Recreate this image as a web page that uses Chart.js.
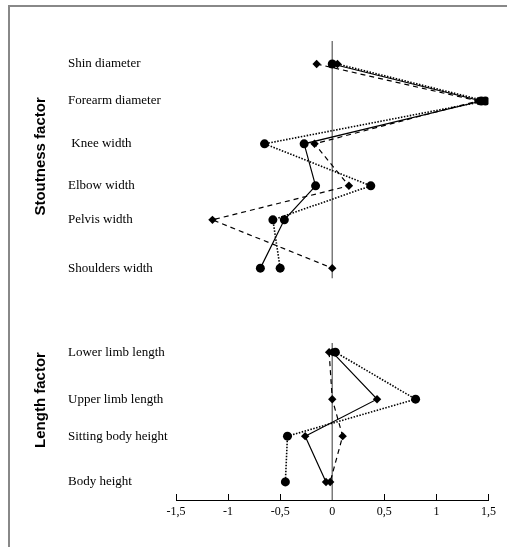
<!DOCTYPE html>
<html>
<head>
<meta charset="utf-8">
<script src="https://cdn.jsdelivr.net/npm/chart.js@4"></script>
<style>
  html, body { margin: 0; padding: 0; background: #fff; overflow: hidden; }
  #wrap { position: relative; width: 507px; height: 547px; }
  #frame { position: absolute; left: 8px; top: 5px; width: 620px; height: 620px; border: 2px solid #888; box-sizing: border-box; }
  #chart { position: absolute; left: 0; top: 0; }
</style>
</head>
<body>
<div id="wrap">
  <div id="frame"></div>
  <canvas id="chart" width="507" height="547"></canvas>
</div>
<script>
// stoutness factor rows (top to bottom)
const stoutLabels = ['Shin diameter', 'Forearm diameter', ' Knee width', 'Elbow width', 'Pelvis width', 'Shoulders width'];
const stoutRowY = [0, 0.88, 1.90, 2.90, 3.71, 4.86];
const stoutSolid = [0.00, 1.43, -0.27, -0.16, -0.46, -0.69];
const stoutDotted = [0.05, 1.47, -0.65, 0.37, -0.57, -0.50];
const stoutDashed = [-0.15, 1.40, -0.17, 0.16, -1.15, 0.00];

// length factor rows
const lengthLabels = ['Lower limb length', 'Upper limb length', 'Sitting body height', 'Body height'];
const lengthRowY = [6.86, 7.98, 8.86, 9.95];
const lengthSolid = [0.00, 0.43, -0.26, -0.06];
const lengthDotted = [0.03, 0.80, -0.43, -0.45];
const lengthDashed = [-0.03, 0.00, 0.10, -0.02];

const factorNames = ['Stoutness factor', 'Length factor'];
const factorY = [2.2, 8.0];
const zeroSpans = [[-0.55, 5.1], [6.64, 10.38]];

const xTicks = [-1.5, -1, -0.5, 0, 0.5, 1, 1.5];

const allLabels = stoutLabels.concat(lengthLabels);
const allRowY = stoutRowY.concat(lengthRowY);

function pts(xs, ys) {
    return xs.map((x, i) => ({x: x, y: ys[i]}));
}

function series(xs, ys, dash, width, style) {
    return {
        data: pts(xs, ys),
        borderColor: '#000',
        backgroundColor: '#000',
        borderWidth: width,
        borderDash: dash,
        pointStyle: style,
        pointRadius: xs.map((_, i) => (Array.isArray(style) ? style[i] : style) === 'circle' ? 4.5 : 4.2),
        pointBorderWidth: 0,
        showLine: true,
        fill: false,
        tension: 0,
        order: 1
    };
}

const datasets = [
    series(stoutSolid, stoutRowY, [], 1.2, 'circle'),
    series(stoutDotted, stoutRowY, [1.5, 1.5], 1.6, ['rectRot', 'circle', 'circle', 'circle', 'circle', 'circle']),
    series(stoutDashed, stoutRowY, [5, 4], 1.2, 'rectRot'),
    series(lengthSolid, lengthRowY, [], 1.2, 'rectRot'),
    series(lengthDotted, lengthRowY, [1.5, 1.5], 1.6, 'circle'),
    series(lengthDashed, lengthRowY, [5, 4], 1.2, 'rectRot')
];

zeroSpans.forEach(span => {
    datasets.push({
        data: span.map(v => ({x: 0, y: v})),
        borderColor: '#7a7a7a',
        borderWidth: 1.5,
        pointRadius: 0,
        showLine: true,
        order: 10
    });
});

const factorTitles = {
    id: 'factorTitles',
    afterDraw(chart) {
        const ctx = chart.ctx;
        const yScale = chart.scales.y;
        ctx.save();
        ctx.fillStyle = '#000';
        ctx.font = 'bold 15px "Liberation Sans", Arial, sans-serif';
        ctx.textAlign = 'center';
        ctx.textBaseline = 'middle';
        factorNames.forEach((name, i) => {
            ctx.save();
            ctx.translate(41, yScale.getPixelForValue(factorY[i]));
            ctx.rotate(-Math.PI / 2);
            ctx.fillText(name, 0, 0);
            ctx.restore();
        });
        ctx.restore();
    }
};

new Chart(document.getElementById('chart').getContext('2d'), {
    type: 'scatter',
    data: {datasets: datasets},
    plugins: [factorTitles],
    options: {
        responsive: false,
        animation: false,
        layout: {padding: {left: 68, right: 13, top: 22, bottom: 27}},
        plugins: {legend: {display: false}, tooltip: {enabled: false}},
        scales: {
            x: {
                type: 'linear',
                min: -1.5,
                max: 1.5,
                afterBuildTicks: scale => { scale.ticks = xTicks.map(v => ({value: v})); },
                afterFit: scale => { scale.height = 20; },
                grid: {drawOnChartArea: false, drawTicks: true, tickLength: -6, color: '#000', lineWidth: 1},
                border: {display: true, color: '#000', width: 1},
                ticks: {
                    padding: 11,
                    color: '#000',
                    font: {family: '"Liberation Serif", "Times New Roman", serif', size: 12},
                    callback: v => String(v).replace('.', ',')
                }
            },
            y: {
                type: 'linear',
                reverse: true,
                min: -1,
                max: 10.38,
                afterBuildTicks: scale => { scale.ticks = allRowY.map(v => ({value: v})); },
                afterFit: scale => { scale.width = 108; },
                grid: {display: false},
                border: {display: false},
                ticks: {
                    crossAlign: 'far',
                    padding: 0,
                    color: '#000',
                    font: {family: '"Liberation Serif", "Times New Roman", serif', size: 13},
                    callback: (v, i) => allLabels[i]
                }
            }
        }
    }
});
</script>
</body>
</html>
